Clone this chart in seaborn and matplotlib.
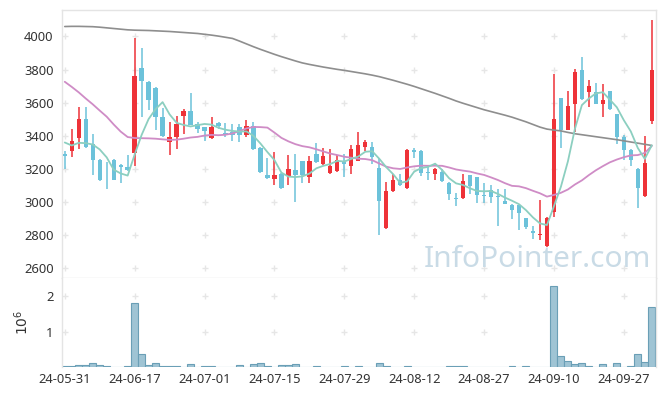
import numpy as np
import pandas as pd
import matplotlib
matplotlib.use("Agg")
import matplotlib.pyplot as plt
import seaborn as sns

# trading days (yy-mm-dd)
dates = [
    "24-05-31", "24-06-03", "24-06-04", "24-06-05", "24-06-07", "24-06-10", "24-06-11", "24-06-12", "24-06-13", "24-06-14",
    "24-06-17", "24-06-18", "24-06-19", "24-06-20", "24-06-21", "24-06-24", "24-06-25", "24-06-26", "24-06-27", "24-06-28",
    "24-07-01", "24-07-02", "24-07-03", "24-07-04", "24-07-05", "24-07-08", "24-07-09", "24-07-10", "24-07-11", "24-07-12",
    "24-07-15", "24-07-16", "24-07-17", "24-07-18", "24-07-19", "24-07-22", "24-07-23", "24-07-24", "24-07-25", "24-07-26",
    "24-07-29", "24-07-30", "24-07-31", "24-08-01", "24-08-02", "24-08-05", "24-08-06", "24-08-07", "24-08-08", "24-08-09",
    "24-08-12", "24-08-13", "24-08-14", "24-08-16", "24-08-19", "24-08-20", "24-08-21", "24-08-22", "24-08-23", "24-08-26",
    "24-08-27", "24-08-28", "24-08-29", "24-08-30", "24-09-02", "24-09-03", "24-09-04", "24-09-05", "24-09-06", "24-09-09",
    "24-09-10", "24-09-11", "24-09-12", "24-09-13", "24-09-19", "24-09-20", "24-09-23", "24-09-24", "24-09-25", "24-09-26",
    "24-09-27", "24-09-30", "24-10-02", "24-10-04", "24-10-07",
]

open_ = [3290, 3306, 3384, 3503, 3350, 3256, 3135, 3255, 3225, 3212,
         3295, 3810, 3725, 3690, 3513, 3362, 3390, 3517, 3551, 3472,
         3451, 3384, 3478, 3416, 3422, 3452, 3402, 3456, 3328, 3164,
         3140, 3170, 3154, 3194, 3249, 3148, 3290, 3231, 3172, 3184,
         3240, 3214, 3250, 3330, 3333, 3205, 2841, 3064, 3132, 3082,
         3315, 3310, 3180, 3168, 3180, 3114, 3022, 3022, 3160, 3148,
         3044, 3074, 3036, 3006, 2984, 2980, 2900, 2822, 2798, 2732,
         2938, 3626, 3436, 3594, 3800, 3666, 3664, 3594, 3670, 3532,
         3395, 3315, 3200, 3034, 3486]
high = [3305, 3442, 3572, 3574, 3410, 3258, 3240, 3262, 3228, 3284,
        3990, 3930, 3728, 3692, 3568, 3481, 3519, 3564, 3659, 3480,
        3455, 3515, 3480, 3476, 3470, 3470, 3496, 3480, 3330, 3264,
        3300, 3172, 3285, 3289, 3250, 3275, 3355, 3325, 3319, 3282,
        3288, 3344, 3421, 3375, 3361, 3265, 3120, 3170, 3170, 3319,
        3325, 3316, 3222, 3204, 3196, 3118, 3052, 3168, 3162, 3150,
        3114, 3100, 3078, 3076, 2986, 2982, 2902, 2854, 3012, 2910,
        3772, 3628, 3670, 3805, 3878, 3735, 3720, 3710, 3672, 3534,
        3405, 3317, 3202, 3398, 4099]
low = [3200, 3272, 3320, 3325, 3162, 3128, 3077, 3130, 3115, 3185,
       3218, 3512, 3557, 3436, 3394, 3283, 3317, 3408, 3462, 3416,
       3370, 3380, 3440, 3392, 3366, 3362, 3392, 3312, 3175, 3138,
       3100, 3080, 3101, 2999, 3114, 3115, 3236, 3225, 3169, 3181,
       3148, 3170, 3246, 3305, 3228, 2802, 2836, 3060, 3097, 3079,
       3266, 3156, 3134, 3132, 3120, 3014, 2978, 3018, 3048, 2994,
       2994, 2992, 2856, 2986, 2898, 2832, 2834, 2776, 2770, 2726,
       2906, 3326, 3432, 3420, 3615, 3572, 3590, 3512, 3558, 3348,
       3253, 3214, 2962, 3030, 3472]
close = [3280, 3370, 3502, 3330, 3252, 3130, 3130, 3135, 3212, 3190,
         3762, 3728, 3614, 3513, 3396, 3394, 3471, 3551, 3467, 3438,
         3426, 3455, 3456, 3406, 3402, 3406, 3460, 3320, 3178, 3142,
         3164, 3082, 3200, 3164, 3161, 3249, 3240, 3278, 3218, 3253,
         3232, 3320, 3346, 3364, 3269, 3004, 3068, 3132, 3100, 3314,
         3299, 3174, 3172, 3196, 3124, 3048, 3018, 3124, 3098, 3044,
         3036, 3030, 3030, 2988, 2950, 2932, 2848, 2814, 2804, 2904,
         3500, 3436, 3580, 3786, 3622, 3700, 3592, 3617, 3560, 3390,
         3313, 3251, 3082, 3236, 3796]

volume = [47000, 47000, 75000, 75000, 130000, 75000, 47000, 19000, 19000, 47000,
          1810000, 380000, 75000, 130000, 47000, 47000, 47000, 19000, 100000, 19000,
          47000, 47000, 4000, 19000, 19000, 75000, 19000, 100000, 130000, 47000,
          19000, 75000, 75000, 100000, 4000, 19000, 47000, 19000, 19000, 19000,
          47000, 19000, 47000, 19000, 19000, 130000, 47000, 19000, 19000, 47000,
          4000, 19000, 4000, 19000, 19000, 47000, 47000, 47000, 4000, 4000,
          19000, 4000, 19000, 19000, 47000, 19000, 47000, 19000, 19000, 19000,
          2270000, 310000, 170000, 100000, 130000, 47000, 19000, 80000, 19000, 110000,
          19000, 47000, 360000, 150000, 1680000]

# moving averages as drawn on the chart
ma5 = [3359, 3341, 3357, 3355, 3347, 3317, 3269, 3195, 3172, 3159,
       3286, 3405, 3501, 3561, 3603, 3529, 3478, 3465, 3456, 3464,
       3471, 3467, 3448, 3436, 3429, 3425, 3426, 3399, 3353, 3301,
       3253, 3177, 3153, 3150, 3154, 3171, 3203, 3218, 3229, 3248,
       3244, 3260, 3274, 3303, 3306, 3261, 3210, 3167, 3115, 3124,
       3183, 3204, 3212, 3231, 3193, 3143, 3112, 3102, 3082, 3066,
       3064, 3066, 3048, 3026, 3007, 2986, 2950, 2906, 2870, 2860,
       2974, 3092, 3245, 3441, 3585, 3625, 3656, 3663, 3618, 3572,
       3494, 3426, 3326, 3260, 3342]
ma20 = [3726, 3695, 3662, 3625, 3590, 3552, 3515, 3468, 3425, 3392,
        3386, 3385, 3384, 3382, 3378, 3375, 3376, 3382, 3389, 3393,
        3401, 3405, 3403, 3406, 3414, 3428, 3444, 3453, 3452, 3449,
        3419, 3387, 3366, 3349, 3337, 3330, 3318, 3305, 3292, 3283,
        3273, 3267, 3261, 3259, 3252, 3232, 3213, 3203, 3199, 3208,
        3215, 3219, 3218, 3219, 3218, 3208, 3196, 3189, 3183, 3172,
        3163, 3148, 3132, 3113, 3097, 3094, 3083, 3067, 3052, 3032,
        3042, 3055, 3075, 3105, 3130, 3162, 3191, 3216, 3239, 3256,
        3270, 3281, 3283, 3296, 3338]
ma120 = [4060, 4061, 4061, 4060, 4059, 4056, 4052, 4048, 4044, 4040,
         4038, 4037, 4036, 4034, 4032, 4030, 4027, 4024, 4021, 4018,
         4013, 4008, 4002, 3995, 3988, 3972, 3955, 3938, 3922, 3907,
         3892, 3878, 3865, 3852, 3840, 3831, 3823, 3815, 3808, 3801,
         3795, 3788, 3781, 3774, 3766, 3757, 3746, 3735, 3723, 3711,
         3698, 3684, 3670, 3656, 3641, 3626, 3610, 3596, 3583, 3570,
         3557, 3546, 3535, 3524, 3512, 3498, 3484, 3468, 3452, 3440,
         3434, 3429, 3420, 3412, 3406, 3400, 3394, 3388, 3382, 3376,
         3369, 3362, 3355, 3348, 3341]

price_ticks = [2600, 2800, 3000, 3200, 3400, 3600, 3800, 4000]
vol_ticks = [1, 2]
date_tick_every = 10

UP = "#ee3238"
DOWN = "#6cc2da"
TXT = "#333333"
FRAME = "#e4e4e4"

sns.set_theme(style="white")
plt.rcParams["font.family"] = ["Noto Sans", "DejaVu Sans"]

df = pd.DataFrame({"date": dates, "open": open_, "high": high, "low": low,
                   "close": close, "volume": volume,
                   "ma5": ma5, "ma20": ma20, "ma120": ma120})
df["i"] = np.arange(len(df))
df["up"] = df["close"] >= df["open"]

fig = plt.figure(figsize=(6.65, 3.96), dpi=100)
ax = fig.add_axes([0.0932, 0.298, 0.8932, 0.6768])
axv = fig.add_axes([0.0932, 0.0725, 0.8932, 0.2255], sharex=ax)

xt = df["i"][::date_tick_every].tolist()

# faint "+" marks at grid crossings
gx, gy = np.meshgrid(xt, price_ticks)
ax.scatter(gx.ravel(), gy.ravel(), marker="+", s=18, color="#e6e6e6", linewidths=1, zorder=0)
gx, gy = np.meshgrid(xt, vol_ticks)
axv.scatter(gx.ravel(), gy.ravel(), marker="+", s=18, color="#e6e6e6", linewidths=1, zorder=0)

ax.text(0.801, 0.041, "InfoPointer.com", transform=ax.transAxes, ha="center", va="baseline",
        fontsize=21.5, color="#c9dbe6", zorder=0.5)

# candles
colors = np.where(df["up"], UP, DOWN)
body_lo = np.minimum(df["open"], df["close"])
body_h = np.maximum((df["close"] - df["open"]).abs(), 5)
ax.vlines(df["i"], df["low"], df["high"], colors=colors, linewidth=1.1, zorder=2)
ax.bar(df["i"], body_h, bottom=body_lo, width=0.62, color=colors, linewidth=0, zorder=3)

# moving averages
sns.lineplot(data=df, x="i", y="ma120", ax=ax, color="#8e8e8e", linewidth=1.2, zorder=4)
sns.lineplot(data=df, x="i", y="ma20", ax=ax, color="#cf8cc6", linewidth=1.3, zorder=4)
sns.lineplot(data=df, x="i", y="ma5", ax=ax, color="#8ccfc0", linewidth=1.3, zorder=4)

# volume
df["vol_m"] = df["volume"] / 1e6
sns.barplot(data=df, x="i", y="vol_m", ax=axv, native_scale=True, width=1.0,
            color="#9fc4d4", edgecolor="#6a9fb6", linewidth=0.8, saturation=1,
            errorbar=None, zorder=2)

ax.set_xlim(-0.4, 84.6)
ax.set_ylim(2540, 4160)
axv.set_ylim(0, 2.5)

ax.set_yticks(price_ticks)
ax.set_yticklabels([str(v) for v in price_ticks])
axv.set_yticks(vol_ticks)
axv.set_yticklabels([str(v) for v in vol_ticks])
axv.set_xticks(xt)
axv.set_xticklabels(df["date"][::date_tick_every])
ax.tick_params(axis="x", labelbottom=False, length=0)
ax.tick_params(axis="y", length=0, pad=6, labelsize=9.3, labelcolor=TXT)
axv.tick_params(axis="y", length=0, pad=6, labelsize=9.3, labelcolor=TXT)
axv.tick_params(axis="x", length=0, pad=4, labelsize=9.3, labelcolor=TXT)

ax.set_xlabel("")
ax.set_ylabel("")
axv.set_xlabel("")
axv.set_ylabel(r"$10^6$", fontsize=10, color=TXT, labelpad=10)

for a in (ax, axv):
    for side in ("left", "right", "top", "bottom"):
        a.spines[side].set_color(FRAME)
        a.spines[side].set_linewidth(1)
axv.spines["bottom"].set_visible(False)
axv.spines["top"].set_visible(False)

fig.savefig("out.png", dpi=100)
